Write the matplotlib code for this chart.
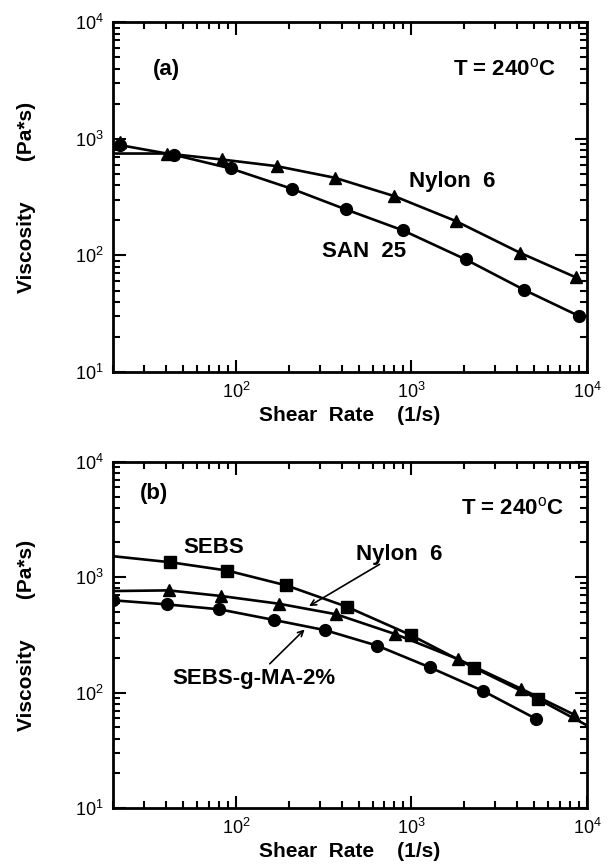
import matplotlib
matplotlib.use("Agg")
import matplotlib.pyplot as plt
from matplotlib.ticker import LogLocator, NullFormatter

plt.rcParams['font.family'] = ['Liberation Sans', 'DejaVu Sans']
plt.rcParams['mathtext.fontset'] = 'custom'
plt.rcParams['mathtext.rm'] = 'Liberation Sans'

# panel (a)
san_x = [21.9, 44.5, 93.5, 208, 423, 894, 2032, 4400, 9000]
san_y = [883, 729, 557, 373, 248, 164, 92.5, 50.5, 30.2]
nyl_a_x = [22, 40.6, 83, 171, 365, 796, 1790, 4170, 8600]
nyl_a_y = [930, 748, 665, 583, 464, 323, 197, 105, 65]
nyl_a_start = 748  # fitted curve at left edge

# panel (b)
sebs_x = [42.2, 89.3, 194, 427, 993, 2260, 5220]
sebs_y = [1349, 1142, 849, 556, 315, 165, 88.5]
sebs_ends = (1520, 52)
nyl_b_x = [41.5, 82.8, 175, 372, 811, 1830, 4220, 8460]
nyl_b_y = [769, 687, 590, 478, 321, 196, 108, 64.4]
nyl_b_start = 759
ma_x = [20, 40.3, 80.7, 164, 322, 640, 1268, 2540, 5090]
ma_y = [631, 582, 527, 427, 348, 255, 166, 104, 59.6]

XMIN, XMAX = 20, 1e4

fig = plt.figure(figsize=(6.08, 8.68), dpi=100)
ax1 = fig.add_axes([0.186, 0.5714, 0.7796, 0.403])
ax2 = fig.add_axes([0.186, 0.069, 0.7796, 0.399])

lk = dict(color='black', lw=1.9)
mk = dict(color='black', ls='none', ms=8.5)


def style(ax):
    ax.set_xscale('log')
    ax.set_yscale('log')
    ax.set_xlim(XMIN, XMAX)
    ax.set_ylim(10, 1e4)
    for s in ax.spines.values():
        s.set_linewidth(2)
    ax.tick_params(which='both', direction='in', top=True, right=True,
                   width=1.5, labelsize=13, pad=7)
    ax.tick_params(which='major', length=9)
    ax.tick_params(which='minor', length=5)
    ax.xaxis.set_minor_locator(LogLocator(base=10, subs=range(2, 10)))
    ax.yaxis.set_minor_locator(LogLocator(base=10, subs=range(2, 10)))
    ax.xaxis.set_minor_formatter(NullFormatter())
    ax.yaxis.set_minor_formatter(NullFormatter())
    ax.set_xticks([1e2, 1e3, 1e4])
    ax.set_xticklabels([r'$10^{2}$', r'$10^{3}$', r'$10^{4}$'])
    ax.set_yticks([1e1, 1e2, 1e3, 1e4])
    ax.set_yticklabels([r'$10^{1}$', r'$10^{2}$', r'$10^{3}$', r'$10^{4}$'])
    ax.set_xlabel('Shear  Rate    (1/s)', fontsize=15, fontweight='bold', labelpad=3)
    ax.set_ylabel('Viscosity       (Pa*s)', fontsize=15, fontweight='bold', labelpad=28)


style(ax1)
ax1.plot(san_x, san_y, **lk)
ax1.plot(san_x, san_y, marker='o', **mk)
ax1.plot([XMIN] + nyl_a_x[1:], [nyl_a_start] + nyl_a_y[1:], **lk)
ax1.plot(nyl_a_x, nyl_a_y, marker='^', **mk)
ax1.text(40, 3930, '(a)', fontsize=16, fontweight='bold', ha='center', va='center')
ax1.text(6670, 3930, r'T = 240$^{\mathrm{o}}$C', fontsize=16, fontweight='bold',
         ha='right', va='center')
ax1.text(1700, 434, 'Nylon  6', fontsize=16, fontweight='bold', ha='center', va='center')
ax1.text(540, 109, 'SAN  25', fontsize=16, fontweight='bold', ha='center', va='center')

style(ax2)
ax2.plot([XMIN] + sebs_x + [XMAX], [sebs_ends[0]] + sebs_y + [sebs_ends[1]], **lk)
ax2.plot(sebs_x, sebs_y, marker='s', **mk)
ax2.plot([XMIN] + nyl_b_x, [nyl_b_start] + nyl_b_y, **lk)
ax2.plot(nyl_b_x, nyl_b_y, marker='^', **mk)
ax2.plot(ma_x, ma_y, **lk)
ax2.plot(ma_x, ma_y, marker='o', **mk)
ax2.text(34, 5330, '(b)', fontsize=16, fontweight='bold', ha='center', va='center')
ax2.text(7380, 3965, r'T = 240$^{\mathrm{o}}$C', fontsize=16, fontweight='bold',
         ha='right', va='center')
ax2.text(75, 1795, 'SEBS', fontsize=16, fontweight='bold', ha='center', va='center')
ax2.text(853, 1571, 'Nylon  6', fontsize=16, fontweight='bold', ha='center', va='center')
ax2.text(127, 132, 'SEBS-g-MA-2%', fontsize=16, fontweight='bold', ha='center', va='center')
ax2.annotate('', xy=(253, 546), xytext=(679, 1330),
             arrowprops=dict(arrowstyle='->', color='black', lw=1.2))
ax2.annotate('', xy=(253, 367), xytext=(152, 171),
             arrowprops=dict(arrowstyle='->', color='black', lw=1.2))

fig.savefig('out.png', dpi=100)
